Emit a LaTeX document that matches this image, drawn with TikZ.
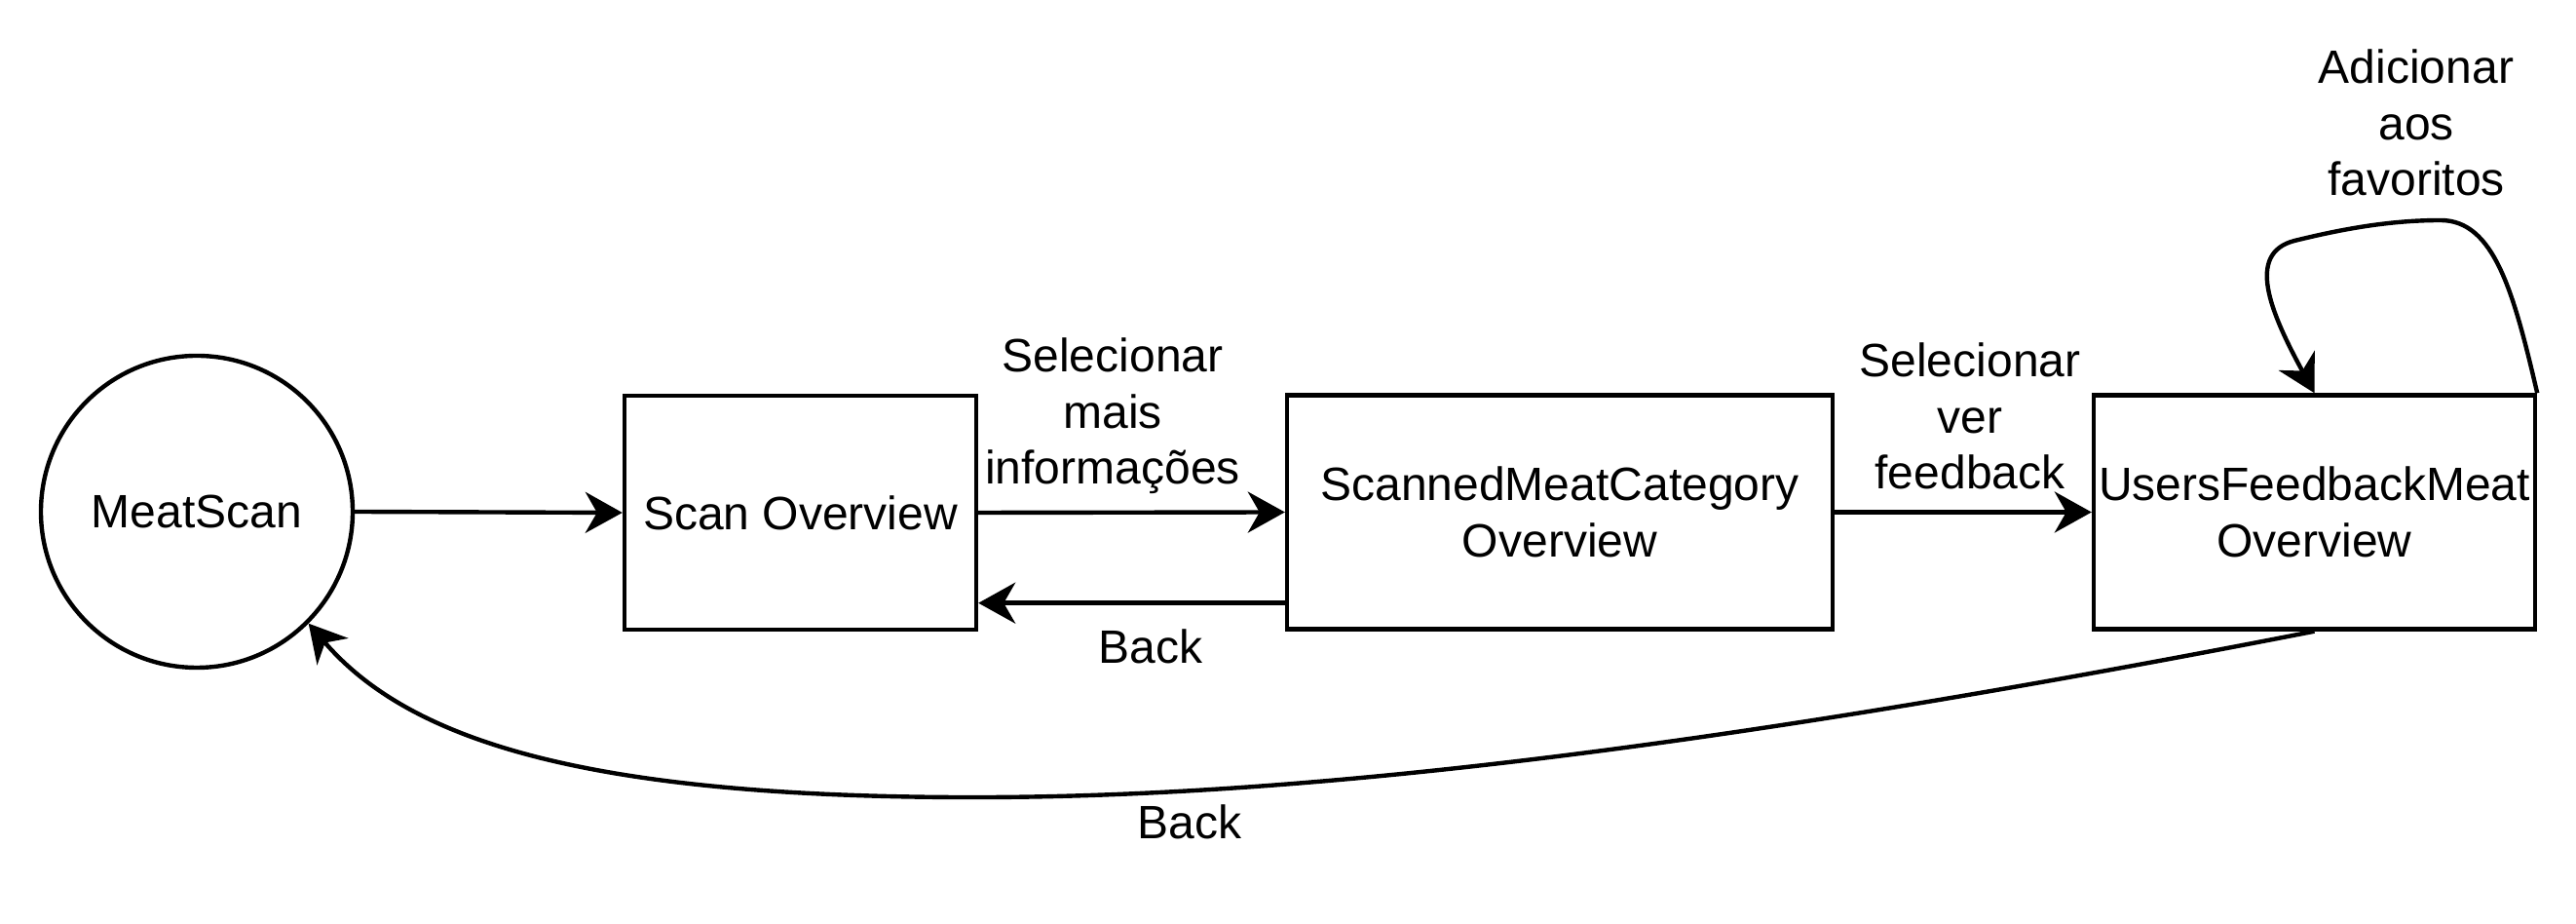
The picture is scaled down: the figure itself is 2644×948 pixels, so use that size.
\documentclass[tikz,border=0pt]{standalone}
\usepackage{fontspec}
\setmainfont{Liberation Sans}
\usetikzlibrary{arrows.meta}
\begin{document}
\begin{tikzpicture}[x=0.25pt,y=-0.25pt,
  every node/.style={font=\fontsize{12}{14.4}\selectfont, inner sep=0pt, align=center},
  state/.style={draw, line width=1.1pt, rectangle, minimum height=60pt},
  startstate/.style={draw, line width=1.1pt, circle, minimum size=80pt},
  arr/.style={line width=1.1pt, -{Stealth[length=9.5pt,width=10.5pt,inset=3pt]}},
  lbl/.style={text=black}]
\useasboundingbox (0,0) rectangle (2644,948);
\fill[white] (0,0) rectangle (2644,948);

\node[startstate] (m) at (202,525) {MeatScan};
\node[state, minimum width=90.25pt] (s) at (821.5,526) {Scan Overview};
\node[state, minimum width=140pt] (c) at (1601,525.5) {ScannedMeatCategory\\Overview};
\node[state, minimum width=113.25pt] (u) at (2375.5,525.5) {UsersFeedbackMeat\\Overview};

\node[lbl] (l1) at (1142,427) {Selecionar\\mais\\informações};
\node[lbl] (l2) at (2022,427) {Selecionar\\ver\\feedback};
\node[lbl] (l3) at (1181,663) {Back};
\node[lbl] (l4) at (2480,126) {Adicionar\\aos\\favoritos};
\node[lbl] (l5) at (1221,843) {Back};

\draw[arr] (m.east) -- (s.west);
\draw[arr] (s.east) -- (c.west);
\draw[arr] ([yshift=7.25pt]c.south west) -- ([yshift=7.25pt]c.south west -| s.east);
\draw[arr] (c.east) -- (u.west);
\draw[arr] (u.north east) .. controls (2580,300) and (2560,226) .. (2505,226)
  .. controls (2450,226) and (2400,236) .. (2355,247)
  .. controls (2305,260) and (2330,320) .. (u.north);
\draw[arr] (u.south) .. controls (1800,760) and (1350,820) .. (980,818)
  .. controls (600,816) and (420,760) .. (m.-45);
\end{tikzpicture}
\end{document}
